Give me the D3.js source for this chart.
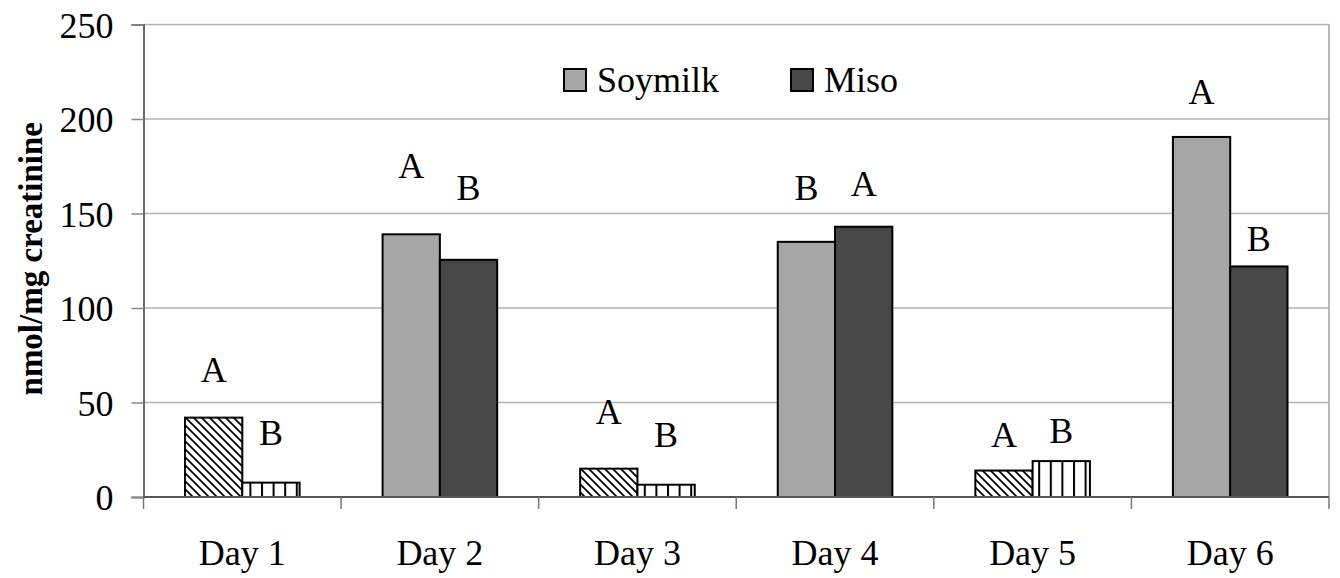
<!DOCTYPE html>
<html>
<head>
<meta charset="utf-8">
<script src="https://cdn.jsdelivr.net/npm/d3@7/dist/d3.min.js"></script>
</head>
<body style="margin:0;background:#fff">
<svg id="chart" width="1340" height="578" style="display:block"></svg>
<script>
// ---- data ----
const categories = ["Day 1","Day 2","Day 3","Day 4","Day 5","Day 6"];
const seriesNames = ["Soymilk","Miso"];
const soymilk = [42, 139, 15, 135, 14, 190.5];
const miso = [7.6, 125.5, 6.5, 143, 19, 122];
const soymilkLetters = ["A","A","A","B","A","A"];
const misoLetters = ["B","B","B","A","B","B"];
// letter baseline levels, in data units
const soymilkLetterLevel = [61, 169, 38.7, 157, 26.6, 208];
const misoLetterLevel = [27.5, 157, 26.6, 159, 28.8, 130];
// days where the bars are drawn with hatch patterns
const patterned = [true, false, true, false, true, false];
const yTicks = [0, 50, 100, 150, 200, 250];

// ---- layout ----
const FONT = "Liberation Serif";
const svg = d3.select("#chart");
const L = 143.5, R = 1329, T = 24.5, B = 497;

const x0 = d3.scaleBand().domain(categories).range([L, R]).paddingInner(0).paddingOuter(0);
const barW = x0.bandwidth() * 0.29;
const x1 = d3.scaleBand().domain(seriesNames).range([x0.bandwidth()/2 - barW, x0.bandwidth()/2 + barW]).padding(0);
const y = d3.scaleLinear().domain([0, 250]).range([B, T]);

// patterns
const defs = svg.append("defs");
const p1 = defs.append("pattern").attr("id","diag").attr("patternUnits","userSpaceOnUse")
  .attr("width",8).attr("height",8);
p1.append("rect").attr("width",8).attr("height",8).attr("fill","#fff");
p1.append("path").attr("d","M-2,-2 L10,10 M-2,6 L2,10 M6,-2 L10,2").attr("stroke","#000").attr("stroke-width",1.8);
const p2 = defs.append("pattern").attr("id","vert").attr("patternUnits","userSpaceOnUse")
  .attr("width",11.6).attr("height",8).attr("x", L + 1.5);
p2.append("rect").attr("width",11.6).attr("height",8).attr("fill","#fff");
p2.append("line").attr("x1",1).attr("x2",1).attr("y1",0).attr("y2",8).attr("stroke","#000").attr("stroke-width",2);

// gridlines
svg.append("g").selectAll("line").data(yTicks.filter(d => d > 0)).join("line")
  .attr("x1", L).attr("x2", R).attr("y1", d => y(d)).attr("y2", d => y(d))
  .attr("stroke", "#b3b3b3").attr("stroke-width", 1.5);
// right border
svg.append("line").attr("x1", R).attr("x2", R).attr("y1", T).attr("y2", B)
  .attr("stroke", "#a0a0a0").attr("stroke-width", 1.5);

// bars
const colors = {Soymilk: "#a6a6a6", Miso: "#474747"};
const seriesVals = {Soymilk: soymilk, Miso: miso};
const g = svg.append("g");
categories.forEach((c, i) => {
  seriesNames.forEach(s => {
    const v = seriesVals[s][i];
    let fill = colors[s];
    if (patterned[i]) fill = s === "Soymilk" ? "url(#diag)" : "url(#vert)";
    g.append("rect")
      .attr("x", x0(c) + x1(s))
      .attr("y", y(v))
      .attr("width", x1.bandwidth())
      .attr("height", y(0) - y(v))
      .attr("fill", fill)
      .attr("stroke", "#000").attr("stroke-width", 2);
  });
});

// letters
const letters = {Soymilk: soymilkLetters, Miso: misoLetters};
const levels = {Soymilk: soymilkLetterLevel, Miso: misoLetterLevel};
categories.forEach((c, i) => {
  seriesNames.forEach(s => {
    svg.append("text")
      .attr("x", x0(c) + x1(s) + x1.bandwidth()/2)
      .attr("y", y(levels[s][i]))
      .attr("text-anchor", "middle")
      .style("font-family", FONT)
      .style("font-size", "36px")
      .text(letters[s][i]);
  });
});

// y axis
const yAxis = svg.append("g").attr("transform", `translate(${L},0)`)
  .call(d3.axisLeft(y).tickValues(yTicks).tickSize(12).tickPadding(18));
yAxis.attr("font-family", null).attr("font-size", null);
yAxis.select(".domain").attr("stroke", "#6a6a6a").attr("stroke-width", 2);
yAxis.selectAll(".tick line").attr("stroke", "#888").attr("stroke-width", 1.5);
yAxis.selectAll(".tick text").style("font-size", "36px").style("font-family", FONT).attr("fill","#000").attr("dy","0.35em");

// x axis
const xAxis = svg.append("g").attr("transform", `translate(0,${B})`);
xAxis.append("line").attr("x1", L).attr("x2", R).attr("y1", 0).attr("y2", 0)
  .attr("stroke", "#555").attr("stroke-width", 2);
const bounds = categories.map(c => x0(c)).concat([R]);
xAxis.selectAll("line.tk").data(bounds).join("line").attr("class","tk")
  .attr("x1", d => d).attr("x2", d => d).attr("y1", 0).attr("y2", 12)
  .attr("stroke", "#777").attr("stroke-width", 1.5);
xAxis.selectAll("text").data(categories).join("text")
  .attr("x", d => x0(d) + x0.bandwidth()/2)
  .attr("y", 68)
  .attr("text-anchor", "middle")
  .style("font-family", FONT)
  .style("font-size", "36px")
  .text(d => d);

// y title
svg.append("text")
  .attr("transform", `translate(42,${(T + B)/2 - 2}) rotate(-90)`)
  .attr("text-anchor", "middle")
  .style("font-family", FONT)
  .style("font-size", "33px")
  .style("font-weight", "bold")
  .text("nmol/mg creatinine");

// legend
const legendX = [564, 791];
seriesNames.forEach((s, i) => {
  const lg = svg.append("g").attr("transform", `translate(${legendX[i]},69)`);
  lg.append("rect").attr("width", 22).attr("height", 22)
    .attr("fill", colors[s]).attr("stroke", "#000").attr("stroke-width", 2);
  lg.append("text").attr("x", 33).attr("y", 23)
    .style("font-family", FONT).style("font-size", "36px").text(s);
});
</script>
</body>
</html>
